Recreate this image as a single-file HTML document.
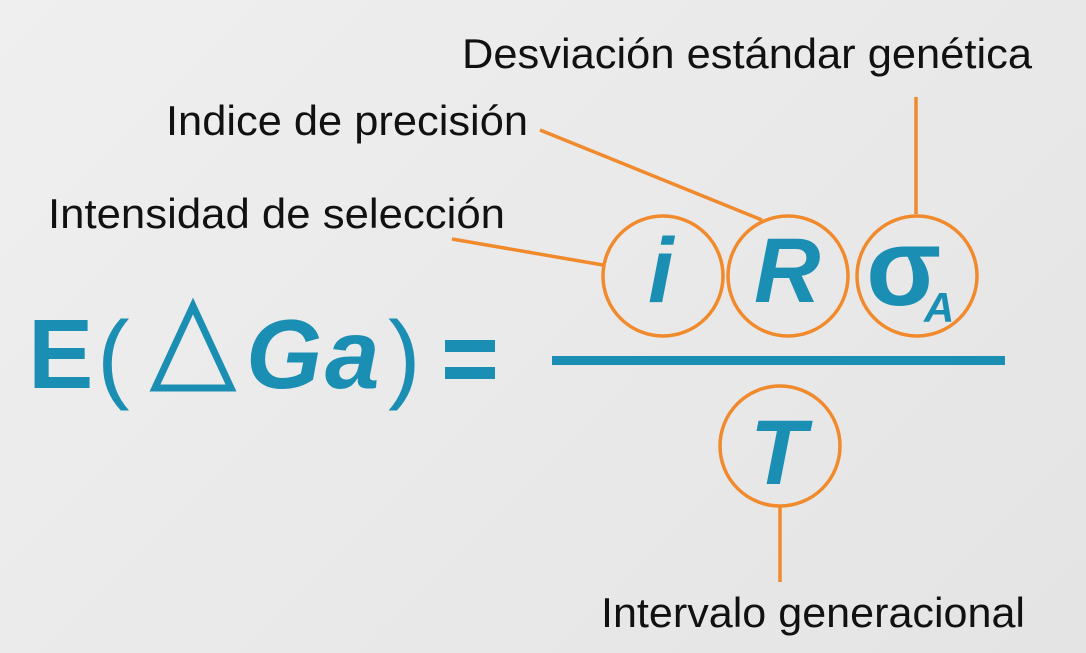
<!DOCTYPE html>
<html><head><meta charset="utf-8"><style>
body{margin:0;width:1086px;height:653px;overflow:hidden;background:linear-gradient(135deg,#efefef,#e4e4e4);}
svg{display:block}
</style></head><body>
<svg width="1086" height="653" xmlns="http://www.w3.org/2000/svg">
<g font-family="Liberation Sans, sans-serif" font-size="42" fill="#111" lengthAdjust="spacingAndGlyphs">
<text x="462" y="68" textLength="570" lengthAdjust="spacingAndGlyphs">Desviación estándar genética</text>
<text x="166" y="135" textLength="362" lengthAdjust="spacingAndGlyphs">Indice de precisión</text>
<text x="48" y="228" textLength="457" lengthAdjust="spacingAndGlyphs">Intensidad de selección</text>
<text x="601" y="627" textLength="424" lengthAdjust="spacingAndGlyphs">Intervalo generacional</text>
</g>
<g stroke="#f08a2c" stroke-width="3.5" fill="none">
<line x1="452" y1="239" x2="603" y2="265"/>
<line x1="540" y1="130" x2="762" y2="220"/>
<line x1="916" y1="97" x2="916" y2="214"/>
<line x1="780" y1="506" x2="780" y2="582"/>
<circle cx="663" cy="276" r="60"/>
<circle cx="788" cy="276" r="60"/>
<circle cx="917" cy="276" r="60"/>
<circle cx="780" cy="446" r="60"/>
</g>
<g fill="#1b8fb3" font-family="Liberation Sans, sans-serif" font-weight="bold">
<text x="28" y="388" font-size="98">E</text>
<text x="97" y="390" font-size="98" font-weight="normal">(</text>
<polygon points="193,306 231,388 155,388" fill="none" stroke="#1b8fb3" stroke-width="7"/>
<text x="246" y="388" font-size="98" font-style="italic">G</text>
<text x="325" y="388" font-size="98" font-style="italic">a</text>
<text x="388" y="390" font-size="98" font-weight="normal">)</text>
<rect x="445" y="340" width="50" height="12"/>
<rect x="445" y="367" width="50" height="12"/>
<rect x="552" y="356" width="453" height="9"/>
<text x="648" y="302" font-size="92" font-style="italic">i</text>
<text x="754" y="302" font-size="92" font-style="italic">R</text>
<text x="866" y="305" font-size="110" font-weight="bold">σ</text>
<text x="924" y="322" font-size="42" font-style="italic">A</text>
<text x="750" y="484" font-size="92" font-style="italic">T</text>
</g>
</svg>
</body></html>
